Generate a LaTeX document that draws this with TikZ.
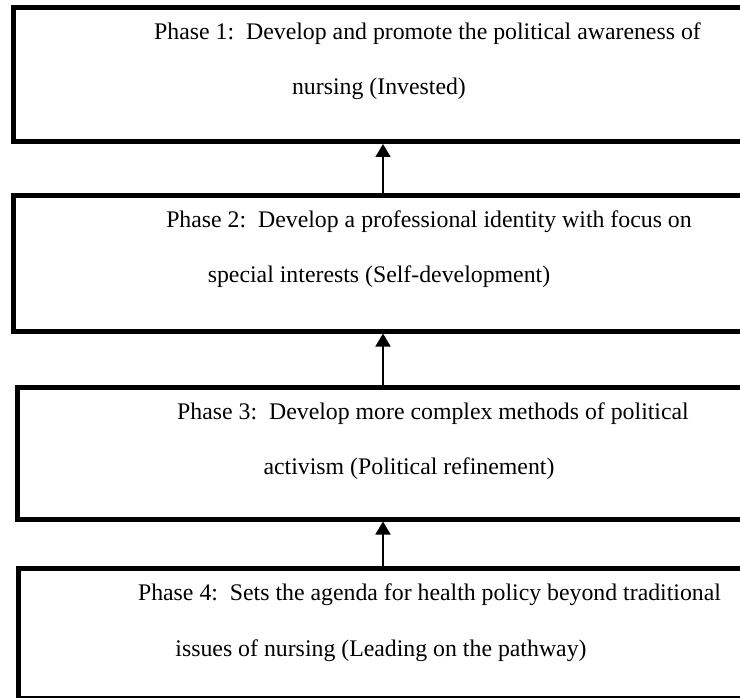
\documentclass[tikz,border=0pt]{standalone}
\usepackage{fontspec}
\setmainfont{Liberation Serif}
\usetikzlibrary{arrows.meta}
\begin{document}
\begin{tikzpicture}[x=1pt,y=-1pt,
  phasebox/.style={draw=black,line width=5pt,rectangle,inner sep=0pt,anchor=north west,minimum width=780pt},
  txt/.style={anchor=base,inner sep=0pt,font=\fontsize{23.8}{28}\selectfont},
  link/.style={line width=1.6pt,-{Triangle[width=15pt,length=13pt]}}]
\useasboundingbox (0,0) rectangle (740,698);
\begin{scope}
\clip (0,0) rectangle (740,698);
\node[phasebox,minimum height=133.5pt] (p1) at (10.5,5.5) {};
\node[phasebox,minimum height=135.5pt] (p2) at (10.5,193) {};
\node[phasebox,minimum height=132pt] (p3) at (15,384.5) {};
\node[phasebox,minimum height=130pt] (p4) at (15.5,565.5) {};
\end{scope}
\node[txt] (t1a) at (427.5,40) {Phase 1:\ \ Develop and promote the political awareness of};
\node[txt] (t1b) at (379,95) {nursing (Invested)};
\node[txt] (t2a) at (429,227.5) {Phase 2:\ \ Develop a professional identity with focus on};
\node[txt] (t2b) at (379,283) {special interests (Self-development)};
\node[txt] (t3a) at (433,419) {Phase 3:\ \ Develop more complex methods of political};
\node[txt] (t3b) at (409,474.5) {activism (Political refinement)};
\node[txt] (t4a) at (429.5,600) {Phase 4:\ \ Sets the agenda for health policy beyond traditional};
\node[txt] (t4b) at (381,656) {issues of nursing (Leading on the pathway)};
\draw[link] (383,0 |- p2.north) -- (383,0 |- p1.south);
\draw[link] (383,0 |- p3.north) -- (383,0 |- p2.south);
\draw[link] (383,0 |- p4.north) -- (383,0 |- p3.south);
\end{tikzpicture}
\end{document}
